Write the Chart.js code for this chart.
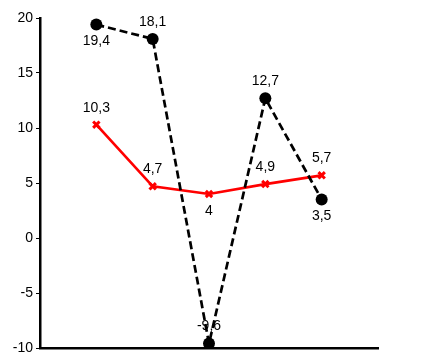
<!DOCTYPE html>
<html><head><meta charset="utf-8">
<script src="https://cdn.jsdelivr.net/npm/chart.js@4"></script>
<style>html,body{margin:0;padding:0;background:#fff}#w{width:443px;height:356px}</style>
</head><body><div id="w"><canvas id="c"></canvas></div>
<script>
const categories = [1, 2, 3, 4, 5];
const seriesBlack = [19.4, 18.1, -9.6, 12.7, 3.5];
const seriesRed = [10.3, 4.7, 4, 4.9, 5.7];
const blackLabelPos = ['below', 'above', 'above', 'above', 'below'];
const redLabelPos = ['above', 'above', 'below', 'above', 'above'];
const yTicks = [-10, -5, 0, 5, 10, 15, 20];

const fmt = v => String(v).replace('.', ',');

const labelPlugin = {
  id: 'labels',
  afterDatasetsDraw(chart) {
    const ctx = chart.ctx;
    ctx.save();
    ctx.font = '14px "Liberation Sans", Arial, sans-serif';
    ctx.fillStyle = '#000';
    ctx.textAlign = 'center';
    chart.data.datasets.forEach((ds, i) => {
      const meta = chart.getDatasetMeta(i);
      meta.data.forEach((el, j) => {
        const pos = ds.labelPos[j];
        if (pos === 'above') { ctx.textBaseline = 'bottom'; ctx.fillText(fmt(ds.data[j].y), el.x, el.y - 10); }
        else { ctx.textBaseline = 'top'; ctx.fillText(fmt(ds.data[j].y), el.x, el.y + 10); }
      });
    });
    ctx.restore();
  }
};

new Chart(document.getElementById('c'), {
  type: 'line',
  data: {
    datasets: [
      {
        data: categories.map((c, i) => ({x: c, y: seriesBlack[i]})),
        labelPos: blackLabelPos,
        borderColor: '#000', backgroundColor: '#000',
        borderWidth: 2.7, borderDash: [8, 4],
        pointStyle: 'circle', pointRadius: 6, pointBackgroundColor: '#000', pointBorderWidth: 0,
        tension: 0
      },
      {
        data: categories.map((c, i) => ({x: c, y: seriesRed[i]})),
        labelPos: redLabelPos,
        borderColor: '#ff0000', backgroundColor: '#ff0000',
        borderWidth: 2.7,
        pointStyle: 'crossRot', pointRadius: 4.5, pointBorderWidth: 3, pointBorderColor: '#ff0000',
        tension: 0
      }
    ]
  },
  options: {
    responsive: true, maintainAspectRatio: false, animation: false,
    layout: { padding: { top: 18, right: 65, bottom: 8, left: 0 } },
    plugins: { legend: { display: false }, tooltip: { enabled: false } },
    scales: {
      x: {
        type: 'linear', min: 0, max: 6,
        grid: { display: false },
        border: { display: true, color: '#000', width: 2.5 },
        ticks: { display: false },
        afterFit(s) { s.height = 0; s.paddingLeft = 0; s.paddingRight = 0; }
      },
      y: {
        min: -10, max: 20,
        afterBuildTicks(s) { s.ticks = yTicks.map(v => ({value: v})); },
        grid: { drawOnChartArea: false, drawTicks: true, tickLength: 4, color: '#000', lineWidth: 1 },
        border: { display: true, color: '#000', width: 2.5 },
        ticks: { color: '#000', padding: 3, font: { family: '"Liberation Sans", Arial, sans-serif', size: 14 } },
        afterFit(s) { s.width = 40; s.paddingTop = 0; s.paddingBottom = 0; }
      }
    }
  },
  plugins: [labelPlugin]
});
</script></body></html>
